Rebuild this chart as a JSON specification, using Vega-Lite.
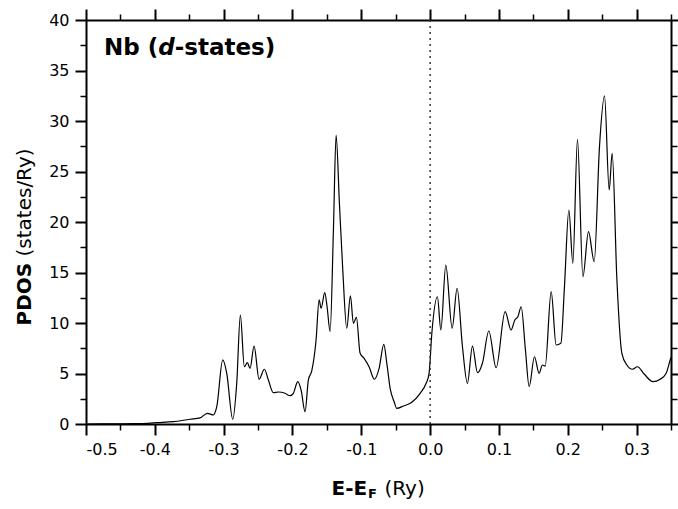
{
  "$schema": "https://vega.github.io/schema/vega-lite/v6.json",
  "width": 585,
  "height": 404,
  "autosize": {"type": "none"},
  "padding": {"left": 86, "top": 20, "right": 7, "bottom": 85},
  "background": "white",
  "config": {
    "view": {"stroke": null},
    "axis": {
      "labelFont": "DejaVu Sans",
      "titleFont": "DejaVu Sans",
      "labelColor": "black",
      "titleColor": "black",
      "domainColor": "black",
      "tickColor": "black",
      "grid": false,
      "domainWidth": 2,
      "tickWidth": 2
    }
  },
  "datasets": {
    "one": [{"item": "annotation"}],
    "pdos": [
      {"E": -0.5, "PDOS": 0},
      {"E": -0.46, "PDOS": 0.01},
      {"E": -0.43, "PDOS": 0.03},
      {"E": -0.41, "PDOS": 0.07},
      {"E": -0.397, "PDOS": 0.13},
      {"E": -0.373, "PDOS": 0.23},
      {"E": -0.349, "PDOS": 0.47},
      {"E": -0.3343, "PDOS": 0.6},
      {"E": -0.3237, "PDOS": 1.06},
      {"E": -0.315, "PDOS": 0.89},
      {"E": -0.31, "PDOS": 1.71},
      {"E": -0.3013, "PDOS": 6.34},
      {"E": -0.2955, "PDOS": 5.02},
      {"E": -0.2868, "PDOS": 0.47},
      {"E": -0.281, "PDOS": 4.03},
      {"E": -0.2757, "PDOS": 10.79},
      {"E": -0.2699, "PDOS": 5.67},
      {"E": -0.2656, "PDOS": 6.07},
      {"E": -0.2616, "PDOS": 5.51},
      {"E": -0.2558, "PDOS": 7.72},
      {"E": -0.2485, "PDOS": 4.43},
      {"E": -0.2408, "PDOS": 5.42},
      {"E": -0.235, "PDOS": 4.36},
      {"E": -0.2278, "PDOS": 3.1},
      {"E": -0.2205, "PDOS": 3.17},
      {"E": -0.2108, "PDOS": 3.04},
      {"E": -0.2035, "PDOS": 2.8},
      {"E": -0.1987, "PDOS": 3.04},
      {"E": -0.1923, "PDOS": 4.19},
      {"E": -0.1875, "PDOS": 3.37},
      {"E": -0.1817, "PDOS": 1.22},
      {"E": -0.1769, "PDOS": 4.36},
      {"E": -0.1719, "PDOS": 5.28},
      {"E": -0.1657, "PDOS": 8.32},
      {"E": -0.1613, "PDOS": 12.28},
      {"E": -0.1584, "PDOS": 11.46},
      {"E": -0.1531, "PDOS": 13.0},
      {"E": -0.1497, "PDOS": 11.61},
      {"E": -0.1453, "PDOS": 9.14},
      {"E": -0.1405, "PDOS": 19.2},
      {"E": -0.1366, "PDOS": 28.6},
      {"E": -0.1318, "PDOS": 21.85},
      {"E": -0.1269, "PDOS": 15.25},
      {"E": -0.1211, "PDOS": 9.48},
      {"E": -0.1158, "PDOS": 12.7},
      {"E": -0.1115, "PDOS": 9.97},
      {"E": -0.1071, "PDOS": 10.56},
      {"E": -0.1017, "PDOS": 7.0},
      {"E": -0.0959, "PDOS": 6.5},
      {"E": -0.0887, "PDOS": 5.67},
      {"E": -0.081, "PDOS": 4.43},
      {"E": -0.0741, "PDOS": 5.51},
      {"E": -0.0673, "PDOS": 7.89},
      {"E": -0.0629, "PDOS": 6.01},
      {"E": -0.0581, "PDOS": 3.53},
      {"E": -0.0523, "PDOS": 2.21},
      {"E": -0.0484, "PDOS": 1.55},
      {"E": -0.0388, "PDOS": 1.78},
      {"E": -0.0266, "PDOS": 2.15},
      {"E": -0.0145, "PDOS": 3.04},
      {"E": -0.0058, "PDOS": 4.03},
      {"E": -0.0015, "PDOS": 5.02},
      {"E": 0.0025, "PDOS": 8.98},
      {"E": 0.0106, "PDOS": 12.6},
      {"E": 0.0156, "PDOS": 9.31},
      {"E": 0.0228, "PDOS": 15.74},
      {"E": 0.032, "PDOS": 9.48},
      {"E": 0.0392, "PDOS": 13.44},
      {"E": 0.047, "PDOS": 7.65},
      {"E": 0.0542, "PDOS": 4.03},
      {"E": 0.0615, "PDOS": 7.72},
      {"E": 0.0688, "PDOS": 5.08},
      {"E": 0.076, "PDOS": 6.01},
      {"E": 0.0853, "PDOS": 9.21},
      {"E": 0.0959, "PDOS": 5.57},
      {"E": 0.109, "PDOS": 11.12},
      {"E": 0.1177, "PDOS": 9.31},
      {"E": 0.1231, "PDOS": 10.3},
      {"E": 0.1275, "PDOS": 10.62},
      {"E": 0.1323, "PDOS": 11.61},
      {"E": 0.1385, "PDOS": 7.33},
      {"E": 0.1439, "PDOS": 3.69},
      {"E": 0.1516, "PDOS": 6.66},
      {"E": 0.1584, "PDOS": 5.02},
      {"E": 0.1632, "PDOS": 5.84},
      {"E": 0.1672, "PDOS": 5.74},
      {"E": 0.1759, "PDOS": 13.1},
      {"E": 0.1831, "PDOS": 7.82},
      {"E": 0.19, "PDOS": 7.99},
      {"E": 0.1952, "PDOS": 13.6},
      {"E": 0.2016, "PDOS": 21.19},
      {"E": 0.2074, "PDOS": 15.91},
      {"E": 0.2141, "PDOS": 28.19},
      {"E": 0.222, "PDOS": 14.58},
      {"E": 0.2301, "PDOS": 19.04},
      {"E": 0.2384, "PDOS": 16.07},
      {"E": 0.2461, "PDOS": 27.46},
      {"E": 0.2534, "PDOS": 32.48},
      {"E": 0.2602, "PDOS": 23.17},
      {"E": 0.2645, "PDOS": 26.8},
      {"E": 0.2714, "PDOS": 14.26},
      {"E": 0.2786, "PDOS": 7.0},
      {"E": 0.2859, "PDOS": 5.84},
      {"E": 0.294, "PDOS": 5.42},
      {"E": 0.3013, "PDOS": 5.67},
      {"E": 0.311, "PDOS": 4.95},
      {"E": 0.3237, "PDOS": 4.19},
      {"E": 0.3343, "PDOS": 4.43},
      {"E": 0.343, "PDOS": 5.02},
      {"E": 0.3488, "PDOS": 6.34},
      {"E": 0.35, "PDOS": 6.6}
    ]
  },
  "layer": [
    {
      "data": {"name": "pdos"},
      "mark": {"type": "line", "color": "black", "strokeWidth": 1.2, "interpolate": "monotone"},
      "encoding": {
        "x": {
          "field": "E", "type": "quantitative",
          "scale": {"domain": [-0.5, 0.35], "nice": false, "zero": false},
          "axis": {
            "orient": "bottom",
            "values": [-0.5, -0.4, -0.3, -0.2, -0.1, 0, 0.1, 0.2, 0.3],
            "labelExpr": "datum.value < -0.0001 ? '-' + format(-datum.value, '.1f') : format(datum.value, '.1f')",
            "tickSize": 11,
            "labelFontSize": 16,
            "labelPadding": 6,
            "title": "E-E",
            "titleFontSize": 20,
            "titleFontWeight": "bold",
            "titleX": 245,
            "titleY": 70,
            "titleAlign": "left",
            "titleBaseline": "alphabetic"
          }
        },
        "y": {
          "field": "PDOS", "type": "quantitative",
          "scale": {"domain": [0, 40], "nice": false},
          "axis": {
            "orient": "left",
            "values": [0, 5, 10, 15, 20, 25, 30, 35, 40],
            "tickSize": 11,
            "labelFontSize": 16,
            "labelPadding": 6,
            "title": "PDOS",
            "titleFontSize": 20,
            "titleFontWeight": "bold",
            "titleAngle": 270,
            "titleX": -56,
            "titleY": 305,
            "titleAlign": "left",
            "titleBaseline": "alphabetic"
          }
        }
      }
    },
    {
      "data": {"name": "one"},
      "mark": {"type": "rule", "color": "#333333", "strokeWidth": 1.5, "strokeDash": [2, 4]},
      "encoding": {
        "x": {
          "datum": 0, "type": "quantitative",
          "scale": {"domain": [-0.5, 0.35], "nice": false, "zero": false},
          "axis": {
            "orient": "bottom",
            "values": [-0.45, -0.35, -0.25, -0.15, -0.05, 0.05, 0.15, 0.25, 0.35],
            "tickSize": 6,
            "tickWidth": 1.5,
            "labels": false,
            "domain": false,
            "title": "F",
            "titleFontSize": 13,
            "titleFontWeight": "bold",
            "titleX": 281.5,
            "titleY": 73.5,
            "titleAlign": "left",
            "titleBaseline": "alphabetic"
          }
        },
        "y": {
          "datum": 0, "type": "quantitative",
          "scale": {"domain": [0, 40], "nice": false},
          "axis": {
            "orient": "left",
            "values": [2.5, 7.5, 12.5, 17.5, 22.5, 27.5, 32.5, 37.5],
            "tickSize": 6,
            "tickWidth": 1.5,
            "labels": false,
            "domain": false,
            "title": "(states/Ry)",
            "titleFontSize": 20,
            "titleFontWeight": "normal",
            "titleAngle": 270,
            "titleX": -56,
            "titleY": 236,
            "titleAlign": "left",
            "titleBaseline": "alphabetic"
          }
        },
        "y2": {"datum": 40}
      }
    },
    {
      "data": {"name": "one"},
      "mark": {"type": "text", "text": "Nb (", "font": "DejaVu Sans", "fontSize": 23, "fontWeight": "bold", "align": "left", "baseline": "alphabetic", "color": "black"},
      "encoding": {
        "x": {
          "datum": -0.4738, "type": "quantitative",
          "scale": {"domain": [-0.5, 0.35], "nice": false, "zero": false},
          "axis": {
            "orient": "top",
            "values": [-0.5, -0.4, -0.3, -0.2, -0.1, 0, 0.1, 0.2, 0.3],
            "tickSize": 11,
            "labels": false,
            "title": "(Ry)",
            "titleFontSize": 20,
            "titleFontWeight": "normal",
            "titleX": 298,
            "titleY": 474,
            "titleAlign": "left",
            "titleBaseline": "alphabetic"
          }
        },
        "y": {
          "datum": 36.53, "type": "quantitative",
          "scale": {"domain": [0, 40], "nice": false},
          "axis": {
            "orient": "right",
            "values": [0, 5, 10, 15, 20, 25, 30, 35, 40],
            "tickSize": 11,
            "labels": false,
            "title": null
          }
        }
      }
    },
    {
      "data": {"name": "one"},
      "mark": {"type": "text", "text": "d", "font": "DejaVu Sans", "fontSize": 23, "fontWeight": "bold", "fontStyle": "italic", "align": "left", "baseline": "alphabetic", "color": "black"},
      "encoding": {
        "x": {
          "datum": -0.3951, "type": "quantitative",
          "scale": {"domain": [-0.5, 0.35], "nice": false, "zero": false},
          "axis": {
            "orient": "top",
            "values": [-0.45, -0.35, -0.25, -0.15, -0.05, 0.05, 0.15, 0.25, 0.35],
            "tickSize": 6,
            "tickWidth": 1.5,
            "labels": false,
            "domain": false,
            "title": null
          }
        },
        "y": {
          "datum": 36.53, "type": "quantitative",
          "scale": {"domain": [0, 40], "nice": false},
          "axis": {
            "orient": "right",
            "values": [2.5, 7.5, 12.5, 17.5, 22.5, 27.5, 32.5, 37.5],
            "tickSize": 6,
            "tickWidth": 1.5,
            "labels": false,
            "domain": false,
            "title": null
          }
        }
      }
    },
    {
      "data": {"name": "one"},
      "mark": {"type": "text", "text": "-states)", "font": "DejaVu Sans", "fontSize": 23, "fontWeight": "bold", "align": "left", "baseline": "alphabetic", "color": "black"},
      "encoding": {
        "x": {"datum": -0.3711, "type": "quantitative", "scale": {"domain": [-0.5, 0.35], "nice": false, "zero": false}, "axis": null},
        "y": {"datum": 36.53, "type": "quantitative", "scale": {"domain": [0, 40], "nice": false}, "axis": null}
      }
    }
  ],
  "resolve": {"axis": {"x": "independent", "y": "independent"}}
}
